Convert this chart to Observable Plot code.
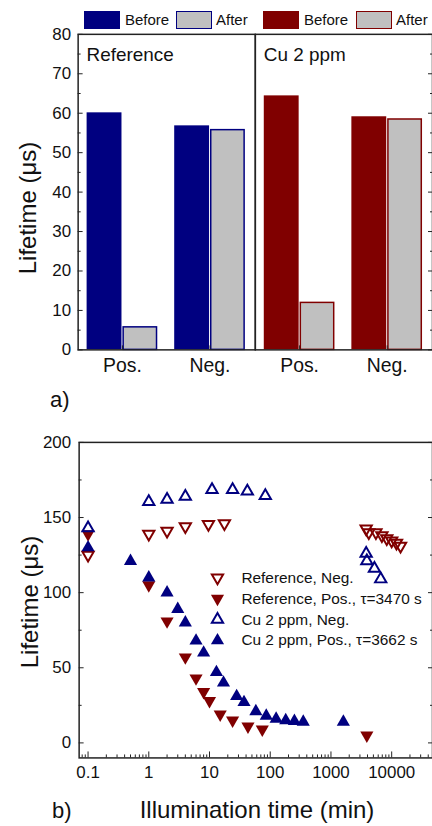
<!DOCTYPE html>
<html><head><meta charset="utf-8">
<script src="https://cdn.jsdelivr.net/npm/d3@7"></script>
<script src="https://cdn.jsdelivr.net/npm/@observablehq/plot@0.6"></script>
<style>
html,body{margin:0;padding:0;background:#fff}
body{width:432px;height:826px;overflow:hidden;position:relative;font-family:"Liberation Sans",Arial,sans-serif;color:#111}
.abs{position:absolute;white-space:nowrap}
#top{position:absolute;left:0;top:0}
#bot{position:absolute;left:0;top:420px}
.rot{transform:translate(-50%,-50%) rotate(-90deg);font-size:24px}
.sw{position:absolute;top:11px;width:36px;height:18px;box-sizing:border-box}
.lt{position:absolute;top:11px;height:18px;line-height:18px;font-size:15px}
</style></head><body>
<div id="legendTop"></div>
<div id="top"></div>
<div id="bot"></div>
<div class="abs rot" style="left:28px;top:208px">Lifetime (μs)</div>
<div class="abs rot" style="left:30px;top:602px">Lifetime (μs)</div>
<div class="abs" style="left:50px;top:387px;font-size:22px;line-height:26px">a)</div>
<div class="abs" style="left:52px;top:798px;font-size:22px;line-height:26px">b)</div>
<div class="abs" style="left:257px;top:810px;transform:translate(-50%,-50%);font-size:24px">Illumination time (min)</div>
<script>
// ---------- Panel a) data ----------
const samples = ["Reference", "Cu 2 ppm"];
const positions = ["Pos.", "Neg."];
const beforeValues = [60.1, 56.8, 64.4, 59.1];   // Ref Pos, Ref Neg, Cu Pos, Cu Neg
const afterValues  = [5.9, 55.9, 12.1, 58.6];
const sampleColors = ["#000080", "#800000"];
const afterFill = "#c0c0c0";
const legendTopLabels = ["Before", "After", "Before", "After"];

// ---------- Panel b) data ----------
const refNegT = [0.1, 1, 2, 4, 9.6, 17.6, 3800, 4200, 5500, 6900, 8300, 10000, 12000, 14000];
const refNegV = [125, 139, 141, 144, 145.5, 146, 142.5, 140, 140, 138, 136, 134.5, 133, 131];
const refPosT = [0.1, 1, 2, 4, 6, 8, 10, 15, 24, 43, 74, 3900];
const refPosV = [139, 105, 81, 57, 43, 34, 28, 19, 15, 11, 9, 5];
const cuNegT = [0.1, 1, 2, 4, 11, 24, 42, 83, 3800, 3900, 5200, 6600];
const cuNegV = [143, 160.5, 162, 164, 168.5, 168.5, 167.5, 164.5, 126, 121, 116, 109];
const cuPosT = [0.1, 0.5, 1, 2, 3, 4, 6, 8, 13, 17, 28, 37, 58, 86, 125, 180, 250, 350, 1600];
const cuPosV = [130, 121, 110, 100, 89, 80, 68, 60, 47, 40, 31, 27, 21, 18, 16, 15, 14.5, 14, 14];
const seriesLabels = ["Reference, Neg.", "Reference, Pos., τ=3470 s", "Cu 2 ppm, Neg.", "Cu 2 ppm, Pos., τ=3662 s"];
const xTickValues = [0.1, 1, 10, 100, 1000, 10000];
const yTickValues = [0, 50, 100, 150, 200];

const font = "Liberation Sans, Arial, sans-serif";
const ink = "#222";

// ---------- top legend (HTML) ----------
(function(){
  const lg = document.getElementById("legendTop");
  const swX = [84, 176, 263, 356];
  const txX = [125, 216, 304, 396];
  legendTopLabels.forEach((lab, i) => {
    const sw = document.createElement("div");
    sw.className = "sw";
    sw.style.left = swX[i] + "px";
    const c = sampleColors[Math.floor(i / 2)];
    if (i % 2 === 0) { sw.style.background = c; }
    else { sw.style.background = afterFill; sw.style.border = "1.5px solid " + c; }
    lg.appendChild(sw);
    const t = document.createElement("div");
    t.className = "lt"; t.style.left = txX[i] + "px"; t.textContent = lab;
    lg.appendChild(t);
  });
})();

// ---------- panel a ----------
const barRows = [];
samples.forEach((s, i) => positions.forEach((p, j) => {
  barRows.push({sample: s, position: p, before: beforeValues[i * 2 + j], after: afterValues[i * 2 + j]});
}));
const W = 434;
const mL1 = 77;
const facetW = (W - mL1) / samples.length;
const pInner = 0.19, pOuter = 0.1;
const step = facetW / (positions.length - pInner + 2 * pOuter);
const halfBand = step * (1 - pInner) / 2;
const noTxt = () => "";

const topChart = Plot.plot({
  width: W, height: 380,
  marginTop: 34, marginLeft: mL1, marginRight: 0, marginBottom: 29,
  style: {fontFamily: font, fontSize: "17px", color: "#111", background: "transparent"},
  fx: {domain: samples, padding: 0, axis: null, label: null},
  x: {domain: positions, paddingInner: pInner, paddingOuter: pOuter, axis: null, label: null},
  y: {domain: [0, 80], axis: null, label: null},
  color: {domain: samples, range: sampleColors},
  marks: [
    Plot.barY(barRows, {fx: "sample", x: "position", y: "before", fill: "sample", insetRight: halfBand}),
    Plot.barY(barRows, {fx: "sample", x: "position", y: "after", fill: afterFill, stroke: "sample", strokeWidth: 1.5, insetLeft: halfBand + 0.75, insetRight: 0.75, insetTop: 0.75}),
    Plot.frame({stroke: ink, strokeWidth: 1.5}),
    Plot.text(samples, {fx: d => d, text: d => d, frameAnchor: "top-left", dx: 8.5, dy: 13.5, lineAnchor: "top", fontSize: 19}),
    Plot.axisY({ticks: d3.range(0, 81, 10), tickSize: 0, tickPadding: 7, fontSize: 17, label: null}),
    Plot.axisY({ticks: d3.range(0, 81, 10), tickSize: -5, tickFormat: noTxt, stroke: ink, label: null}),
    Plot.axisY({ticks: d3.range(5, 80, 10), tickSize: -3, tickFormat: noTxt, stroke: ink, label: null}),
    Plot.axisY({anchor: "right", ticks: d3.range(0, 81, 10), tickSize: -5, tickFormat: noTxt, stroke: ink, label: null}),
    Plot.axisY({anchor: "right", ticks: d3.range(5, 80, 10), tickSize: -3, tickFormat: noTxt, stroke: ink, label: null}),
    Plot.axisX({tickSize: 0, tickPadding: 8, fontSize: 19.5, label: null}),
    Plot.axisX({tickSize: -4, tickFormat: noTxt, stroke: ink, label: null})
  ]
});
document.getElementById("top").appendChild(topChart);

// ---------- panel b ----------
const mk = (T, V) => T.map((t, i) => ({t, v: V[i]}));
const blue = "#000080", red = "#800000";
const styles = [
  {color: red, filled: false, rot: 180},
  {color: red, filled: true, rot: 180},
  {color: blue, filled: false, rot: 0},
  {color: blue, filled: true, rot: 0}
];
const series = [mk(refNegT, refNegV), mk(refPosT, refPosV), mk(cuNegT, cuNegV), mk(cuPosT, cuPosV)];
const dotOpts = (s) => s.filled
  ? {fill: s.color, stroke: "none", r: 4.9, symbol: "triangle", rotate: s.rot}
  : {fill: "none", stroke: s.color, strokeWidth: 2, r: 4.2, symbol: "triangle", rotate: s.rot};

const minorX = [];
for (let e = -2; e <= 4; e++) for (let m = 2; m <= 9; m++) {
  const v = m * Math.pow(10, e);
  if (v > 0.0713 && v < 47000) minorX.push(v);
}
const yMinor = [25, 75, 125, 175];

const seriesMarks = series.map((data, i) => Plot.dot(data, {x: "t", y: "v", ...dotOpts(styles[i])}));
const legendMarks = [];
seriesLabels.forEach((lab, i) => {
  legendMarks.push(Plot.dot([lab], {frameAnchor: "top-left", dx: 139, dy: 136 + 21 * i, ...dotOpts(styles[i])}));
  legendMarks.push(Plot.text([lab], {frameAnchor: "top-left", text: d => d, dx: 163, dy: 136 + 21 * i, textAnchor: "start", lineAnchor: "middle", fontSize: 15.5}));
});

const botChart = Plot.plot({
  width: W, height: 370,
  marginTop: 22, marginLeft: 79, marginRight: 0, marginBottom: 31,
  style: {fontFamily: font, fontSize: "17px", color: "#111", background: "transparent", overflow: "visible"},
  x: {type: "log", domain: [0.0713, 47000], axis: null, label: null},
  y: {domain: [-10, 200], axis: null, label: null},
  marks: [
    Plot.frame({stroke: ink, strokeWidth: 1.5}),
    Plot.axisY({ticks: yTickValues, tickSize: 0, tickPadding: 8, fontSize: 17, label: null}),
    Plot.axisY({ticks: yTickValues, tickSize: -5, tickFormat: noTxt, stroke: ink, label: null}),
    Plot.axisY({ticks: yMinor, tickSize: -3, tickFormat: noTxt, stroke: ink, label: null}),
    Plot.axisY({anchor: "right", ticks: yTickValues, tickSize: -5, tickFormat: noTxt, stroke: ink, label: null}),
    Plot.axisY({anchor: "right", ticks: yMinor, tickSize: -3, tickFormat: noTxt, stroke: ink, label: null}),
    Plot.axisX({ticks: xTickValues, tickSize: 0, tickPadding: 8, tickFormat: d => String(d), fontSize: 17, label: null}),
    Plot.axisX({ticks: xTickValues, tickSize: -6, tickFormat: noTxt, stroke: ink, label: null}),
    Plot.axisX({ticks: minorX, tickSize: -3, tickFormat: noTxt, stroke: ink, label: null}),
    ...seriesMarks,
    ...legendMarks
  ]
});
document.getElementById("bot").appendChild(botChart);
</script>
</body></html>
